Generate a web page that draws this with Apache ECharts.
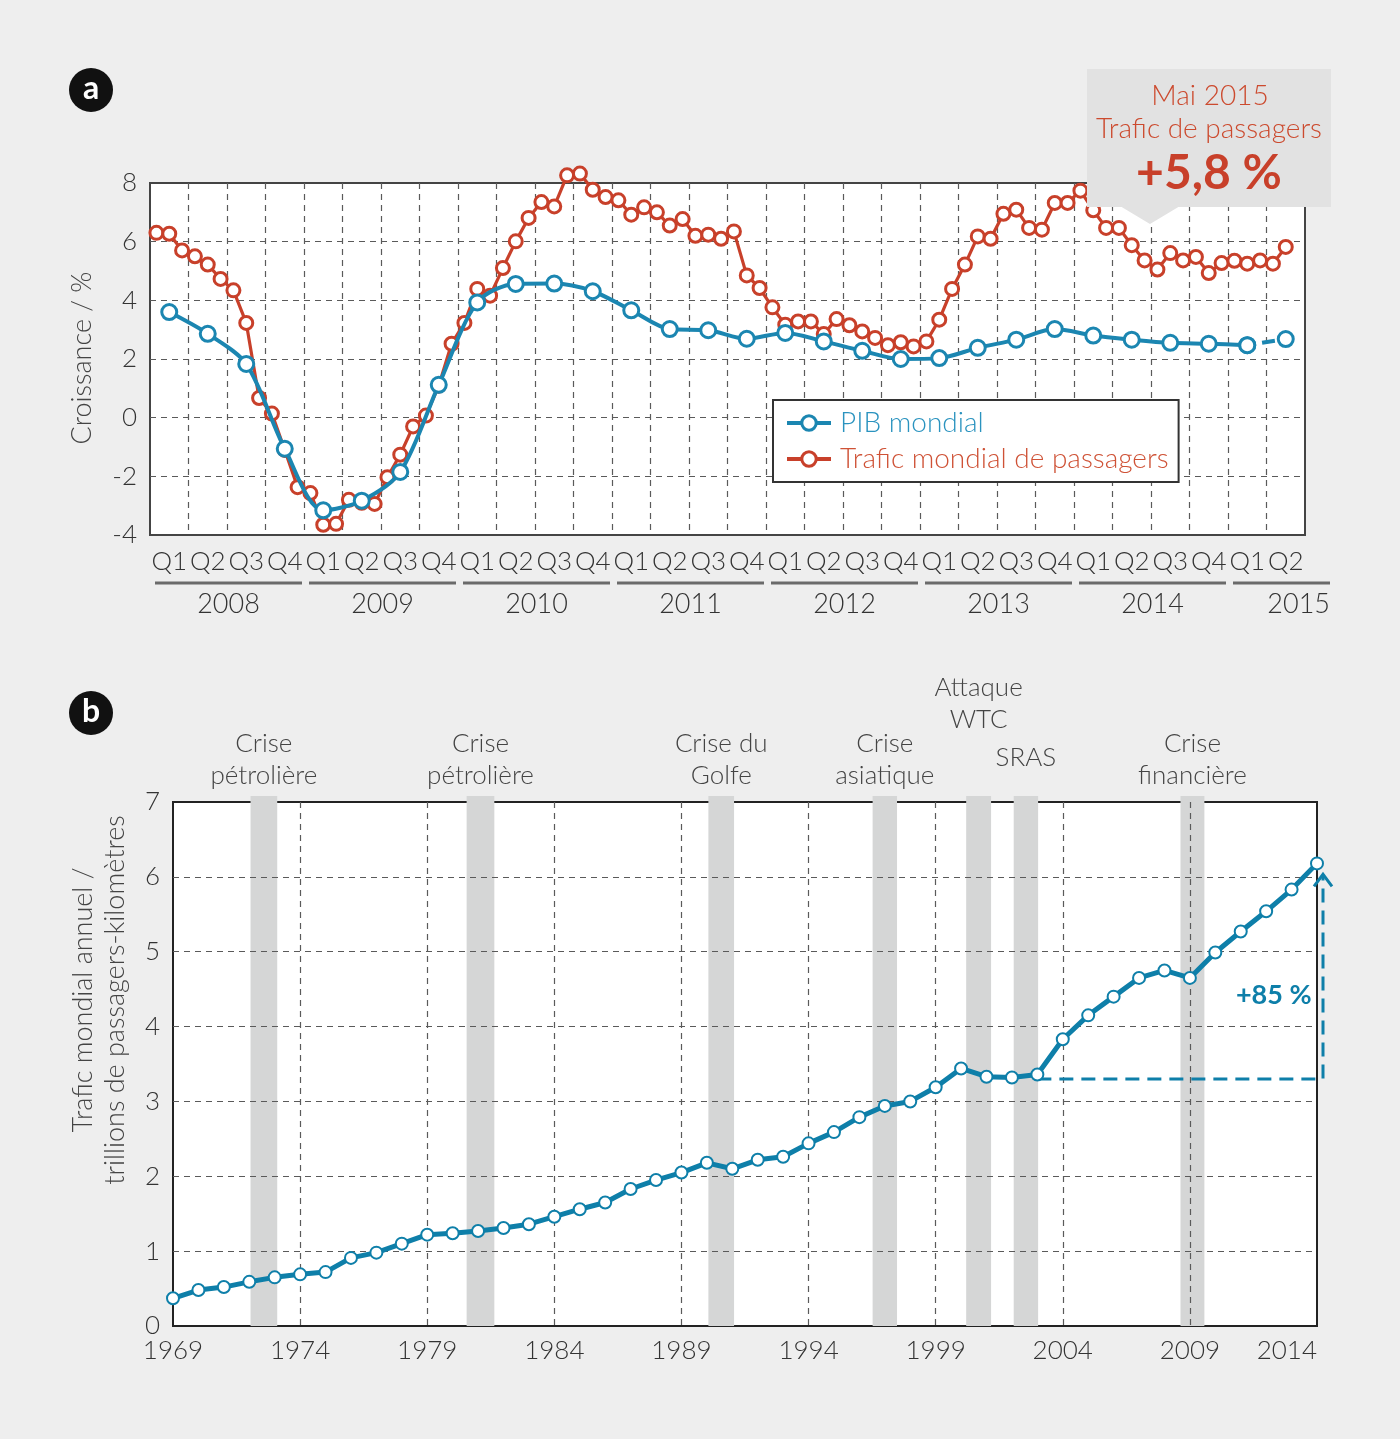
<!DOCTYPE html>
<html><head><meta charset="utf-8">
<script src="https://cdn.jsdelivr.net/npm/echarts@6/dist/echarts.min.js"></script>
<style>html,body{margin:0;padding:0;background:#eeeeee}#c{width:1400px;height:1439px}</style>
</head><body><div id="c"></div><script>
const FONT = 'Lato, "Open Sans", "DejaVu Sans", sans-serif';
const RED = '#c8402a';
const BLUE = '#1b86b1';
const BLUE_B = '#0e7fa9';

// ---------- Chart a : quarterly growth 2008 Q1 - 2015 Q2 ----------
const quarterLabels = ['Q1','Q2','Q3','Q4','Q1','Q2','Q3','Q4','Q1','Q2','Q3','Q4','Q1','Q2','Q3','Q4',
  'Q1','Q2','Q3','Q4','Q1','Q2','Q3','Q4','Q1','Q2','Q3','Q4','Q1','Q2'];
const yearLabels = ['2008','2009','2010','2011','2012','2013','2014','2015'];
const quartersPerYear = [4,4,4,4,4,4,4,2];
// GDP growth, one value per quarter (%)
const gdpGrowth = [3.6,2.86,1.83,-1.06, -3.16,-2.83,-1.85,1.12, 3.93,4.56,4.57,4.31, 3.66,3.02,2.98,2.69,
  2.89,2.6,2.28,2.0, 2.03,2.38,2.66,3.02, 2.8,2.66,2.55,2.52, 2.47,2.68];
// Passenger traffic growth, one value per month Jan 2008 - May 2015 (%)
const trafficMonthly = [6.3,6.27,5.7,5.5,5.22,4.73,4.34,3.23,0.67,0.14,
  -1.1,-2.37,-2.57,-3.65,-3.62,-2.8,-2.9,-2.94,-2.03,-1.26,
  -0.3,0.07,1.09,2.52,3.23,4.39,4.16,5.1,6.01,6.81,
  7.35,7.2,8.26,8.32,7.77,7.52,7.41,6.92,7.17,7.0,
  6.55,6.77,6.2,6.24,6.1,6.35,4.85,4.42,3.76,3.17,
  3.28,3.28,2.85,3.36,3.15,2.94,2.72,2.47,2.57,2.43,
  2.6,3.34,4.39,5.22,6.18,6.1,6.95,7.09,6.47,6.41,
  7.32,7.32,7.74,7.07,6.47,6.47,5.88,5.36,5.05,5.61,
  5.36,5.48,4.93,5.27,5.35,5.25,5.36,5.25,5.82];
const growthYTicks = [-4, 8, 2];

// ---------- Chart b : annual traffic 1969 - 2014 ----------
const years = []; for (let y = 1969; y <= 2014; y++) years.push(y);
// trillions of passenger-km
const annualTraffic = [0.37,0.48,0.52,0.59,0.65,0.69,0.72,0.91,0.98,1.10,
  1.22,1.24,1.27,1.31,1.36,1.46,1.56,1.65,1.83,1.95,
  2.05,2.18,2.10,2.22,2.26,2.44,2.59,2.79,2.94,3.00,
  3.19,3.44,3.33,3.32,3.36,3.83,4.15,4.40,4.65,4.75,
  4.65,4.99,5.27,5.54,5.83,6.18];
const crisisStart = [1972.05,1980.55,1990.06,1996.52,2000.2,2002.07,2008.63];
const crisisEnd   = [1973.1,1981.64,1991.07,1997.48,2001.18,2003.03,2009.57];
const crisisLabels = ['Crise\npétrolière','Crise\npétrolière','Crise du\nGolfe','Crise\nasiatique','Attaque\nWTC','SRAS','Crise\nfinancière'];
const growthFrom = [2003, 3.3];
const growthTo = [2014, 6.1];
const growthText = '+85 %';
const growthTextAt = [2012.3, 4.42];

// label lift above plot for each crisis label (styling)
const crisisLift = [10,10,10,10,66,28,10];

const yearSpans = [];
{ let s = 0; quartersPerYear.forEach(q => { yearSpans.push([s, s + q * 3]); s += q * 3; }); }

const chart = echarts.init(document.getElementById('c'), null, {renderer:'canvas'});

const splitDash = {show:true, showMinLine:false, showMaxLine:false, lineStyle:{type:[6,5], color:'#5a5a5a', width:1.2}};
const lbl = {fontSize:26, color:'#333', fontFamily:FONT, fontWeight:300};

const option = {
  backgroundColor:'#eeeeee',
  animation:false,
  textStyle:{fontFamily:FONT},
  grid:[
    {left:150, top:183, width:1155, height:352, show:true, backgroundColor:'#fff', borderColor:'#444', borderWidth:2},
    {left:173, top:802, width:1144, height:524, show:true, backgroundColor:'#fff', borderColor:'#222', borderWidth:2}
  ],
  legend:{
    left:773, top:400, orient:'vertical', selectedMode:false,
    data:[{name:'PIB mondial', textStyle:{color:'#2a93bf'}}, {name:'Trafic mondial de passagers', textStyle:{color:'#cf5236'}}],
    backgroundColor:'#fff', borderColor:'#333', borderWidth:2, borderRadius:0,
    padding:[9,10,9,12], itemGap:8, itemWidth:44, itemHeight:18,
    lineStyle:{width:4}, itemStyle:{borderWidth:3},
    textStyle:{fontSize:28, fontFamily:FONT, fontWeight:300, padding:[0,0,0,4]}
  },
  xAxis:[
    {type:'value', gridIndex:0, min:0, max:90, interval:3, axisLine:{show:false}, axisTick:{show:false},
     axisLabel:{show:false}, splitLine:splitDash, z:2},
    {type:'category', gridIndex:0, data:quarterLabels, boundaryGap:true, position:'bottom',
     axisLine:{show:false}, axisTick:{show:false}, splitLine:{show:false},
     axisLabel:Object.assign({interval:0, margin:14}, lbl)},
    {type:'value', gridIndex:1, min:1969, max:2014, interval:5, axisLine:{show:false}, axisTick:{show:false},
     axisLabel:Object.assign({margin:12, alignMaxLabel:'right', formatter:v => String(v)}, lbl), splitLine:splitDash, z:2}
  ],
  yAxis:[
    {type:'value', gridIndex:0, min:growthYTicks[0], max:growthYTicks[1], interval:growthYTicks[2],
     axisLine:{show:false}, axisTick:{show:false}, axisLabel:Object.assign({margin:13}, lbl), splitLine:splitDash, z:2},
    {type:'value', gridIndex:1, min:0, max:7, interval:1,
     axisLine:{show:false}, axisTick:{show:false}, axisLabel:Object.assign({margin:13}, lbl), splitLine:splitDash, z:2}
  ],
  series:[
    {name:'Trafic mondial de passagers', type:'line', xAxisIndex:0, yAxisIndex:0, z:3, clip:false,
     data:trafficMonthly.map((v,i)=>[i+0.5, v]),
     color:RED, lineStyle:{color:RED, width:3.2}, symbol:'circle', symbolSize:13,
     itemStyle:{color:'#fff', borderColor:RED, borderWidth:3}},
    {name:'PIB mondial', type:'line', xAxisIndex:0, yAxisIndex:0, z:4, smooth:0.3, clip:false,
     data:gdpGrowth.slice(0, gdpGrowth.length-1).map((v,i)=>[i*3+1.5, v]),
     color:BLUE, lineStyle:{color:BLUE, width:4}, symbol:'circle', symbolSize:15,
     itemStyle:{color:'#fff', borderColor:BLUE, borderWidth:3}},
    {name:'PIB mondial', type:'line', xAxisIndex:0, yAxisIndex:0, z:4, clip:false,
     data:gdpGrowth.slice(gdpGrowth.length-2).map((v,i)=>[(gdpGrowth.length-2+i)*3+1.5, v]),
     color:BLUE, lineStyle:{color:BLUE, width:4, type:[13,15], dashOffset:13}, symbol:'circle', symbolSize:15,
     itemStyle:{color:'#fff', borderColor:BLUE, borderWidth:3}},
    {type:'custom', xAxisIndex:0, yAxisIndex:0, clip:false, silent:true, z:3,
     data:yearSpans,
     renderItem:function(params, api){
       const i = params.dataIndex;
       const a = api.coord([api.value(0), growthYTicks[0]]);
       const b = api.coord([api.value(1), growthYTicks[0]]);
       const last = i === yearLabels.length-1;
       const x0 = a[0]+5, x1 = last ? b[0]+25 : b[0]-2;
       return {type:'group', children:[
         {type:'line', shape:{x1:x0, y1:a[1]+48, x2:x1, y2:a[1]+48}, style:{stroke:'#6a6a6a', lineWidth:3}},
         {type:'text', x:last ? x1 : (x0+x1)/2, y:a[1]+69,
          style:{text:yearLabels[i], fill:'#333', fontSize:27, fontFamily:FONT, fontWeight:300,
                 align:last?'right':'center', verticalAlign:'middle', textAlign:last?'right':'center', textVerticalAlign:'middle'}}
       ]};
     }},
    // chart b: crisis bands
    {type:'custom', xAxisIndex:2, yAxisIndex:1, clip:false, silent:true, z:1,
     data:crisisStart.map((s,i)=>[s, crisisEnd[i]]),
     renderItem:function(params, api){
       const i = params.dataIndex;
       const a = api.coord([api.value(0), 7]);
       const b = api.coord([api.value(1), 0]);
       return {type:'group', children:[
         {type:'rect', shape:{x:a[0], y:a[1]-6, width:b[0]-a[0], height:b[1]-a[1]+6}, style:{fill:'#d5d6d6'}},
         {type:'text', x:(a[0]+b[0])/2, y:a[1]-crisisLift[i],
          style:{text:crisisLabels[i], fill:'#444', fontSize:26, fontFamily:FONT, fontWeight:300, lineHeight:32,
                 align:'center', verticalAlign:'bottom', textAlign:'center', textVerticalAlign:'bottom'}}
       ]};
     }},
    {name:'Trafic annuel', type:'line', xAxisIndex:2, yAxisIndex:1, z:4,
     data:annualTraffic.map((v,i)=>[years[i], v]),
     lineStyle:{color:BLUE_B, width:5}, symbol:'circle', symbolSize:12,
     itemStyle:{color:'#fff', borderColor:BLUE_B, borderWidth:2}},
    // chart b: +85 % annotation
    {type:'custom', xAxisIndex:2, yAxisIndex:1, clip:false, silent:true, z:3,
     data:[[growthFrom[0], growthFrom[1], growthTo[0], growthTo[1]]],
     renderItem:function(params, api){
       const p0 = api.coord([api.value(0), api.value(1)]);
       const p1 = api.coord([api.value(2), api.value(1)]);
       const p2 = api.coord([api.value(2), api.value(3)]);
       const t = api.coord(growthTextAt);
       const X = p1[0]+6;
       return {type:'group', children:[
         {type:'polyline', shape:{points:[[p0[0], p0[1]], [X, p0[1]], [X, p2[1]+6]]},
          style:{stroke:BLUE_B, lineWidth:3, lineDash:[14,8], fill:null}},
         {type:'polyline', shape:{points:[[X-9, p2[1]+17],[X, p2[1]+5],[X+9, p2[1]+17]]},
          style:{stroke:BLUE_B, lineWidth:3, fill:null}},
         {type:'text', x:t[0], y:t[1],
          style:{text:growthText, fill:BLUE_B, fontSize:27, fontWeight:'bold', fontFamily:FONT,
                 align:'center', verticalAlign:'middle', textAlign:'center', textVerticalAlign:'middle'}}
       ]};
     }}
  ],
  graphic:[
    {type:'circle', shape:{cx:91, cy:90, r:22}, style:{fill:'#111'}, z:10},
    {type:'text', x:91, y:89, style:{text:'a', fill:'#fff', fontSize:32, fontWeight:'bold', fontFamily:FONT, align:'center', verticalAlign:'middle', textAlign:'center', textVerticalAlign:'middle'}, z:11},
    {type:'circle', shape:{cx:91, cy:713, r:22}, style:{fill:'#111'}, z:10},
    {type:'text', x:91, y:712, style:{text:'b', fill:'#fff', fontSize:32, fontWeight:'bold', fontFamily:FONT, align:'center', verticalAlign:'middle', textAlign:'center', textVerticalAlign:'middle'}, z:11},
    {type:'text', x:82, y:358, rotation:Math.PI/2, style:{text:'Croissance / %', fill:'#444', fontSize:27, fontFamily:FONT, fontWeight:300, align:'center', verticalAlign:'middle', textAlign:'center', textVerticalAlign:'middle'}, z:10},
    {type:'text', x:99, y:1000, rotation:Math.PI/2, style:{text:'Trafic mondial annuel /\ntrillions de passagers-kilomètres', fill:'#444', fontSize:27, lineHeight:32, fontFamily:FONT, fontWeight:300, align:'center', verticalAlign:'middle', textAlign:'center', textVerticalAlign:'middle'}, z:10},
    {type:'rect', shape:{x:1087, y:69, width:244, height:138}, style:{fill:'#e2e2e2'}, z:20},
    {type:'polygon', shape:{points:[[1120,206],[1180,206],[1150,224]]}, style:{fill:'#e2e2e2'}, z:20},
    {type:'text', x:1210, y:96, style:{text:'Mai 2015', fill:'#cc4a2e', fontSize:28, fontFamily:FONT, fontWeight:300, align:'center', verticalAlign:'middle', textAlign:'center', textVerticalAlign:'middle'}, z:21},
    {type:'text', x:1209, y:129, style:{text:'Trafic de passagers', fill:'#cc4a2e', fontSize:28, fontFamily:FONT, fontWeight:300, align:'center', verticalAlign:'middle', textAlign:'center', textVerticalAlign:'middle'}, z:21},
    {type:'text', x:1209, y:174, style:{text:'+5,8 %', fill:'#c8402a', fontSize:48, fontFamily:FONT, fontWeight:'bold', align:'center', verticalAlign:'middle', textAlign:'center', textVerticalAlign:'middle'}, z:21}
  ]
};
chart.setOption(option);
</script></body></html>
